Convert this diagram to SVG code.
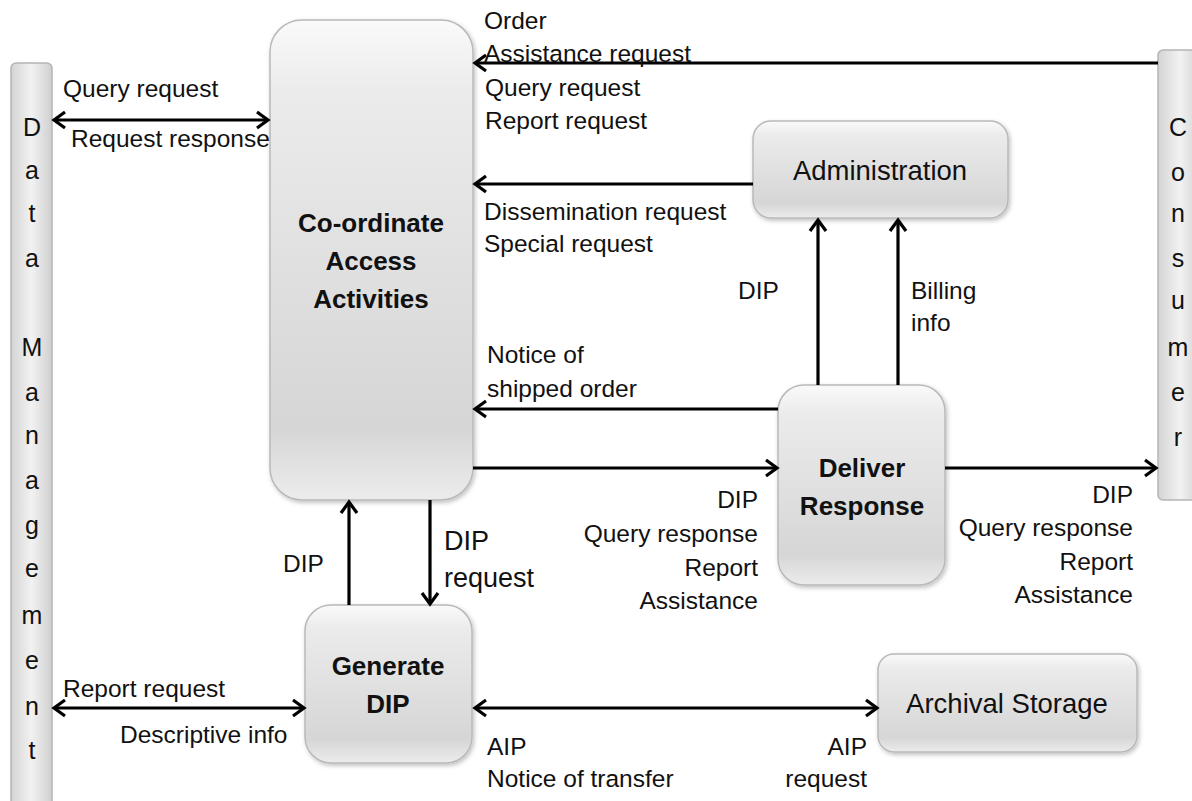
<svg xmlns="http://www.w3.org/2000/svg" width="1192" height="801" viewBox="0 0 1192 801">
<style>
text{font-family:"Liberation Sans",Arial,sans-serif;fill:#111;}
.lbl{font-size:24.5px;}
.nd{font-size:26px;font-weight:bold;text-anchor:middle;}
.nr{font-size:27.5px;text-anchor:middle;}
.bar{font-size:25px;text-anchor:middle;}
.box{fill:url(#g);stroke:#b9b9b9;stroke-width:1.5;}
.vbar{fill:url(#gh);stroke:#b5b5b5;stroke-width:1.5;}
.c{stroke:#000;stroke-width:3.2;fill:none;}
.r{text-anchor:end;}
</style>
<defs>
<linearGradient id="g" x1="0" y1="0" x2="0" y2="1">
<stop offset="0" stop-color="#fafafa"/>
<stop offset="0.15" stop-color="#ebebeb"/>
<stop offset="0.85" stop-color="#d6d6d6"/>
<stop offset="1" stop-color="#ececec"/>
</linearGradient>
<linearGradient id="gh" x1="0" y1="0" x2="1" y2="0">
<stop offset="0" stop-color="#d4d4d4"/>
<stop offset="0.5" stop-color="#f2f2f2"/>
<stop offset="1" stop-color="#cfcfcf"/>
</linearGradient>
<filter id="sh" x="-10%" y="-10%" width="130%" height="130%">
<feDropShadow dx="1.5" dy="2" stdDeviation="2" flood-color="#000" flood-opacity="0.25"/>
</filter>
<marker id="a" markerUnits="userSpaceOnUse" markerWidth="16" markerHeight="20" refX="13" refY="10" orient="auto-start-reverse">
<path d="M2,2 L13,10 L2,18" fill="none" stroke="#000" stroke-width="3.2"/>
</marker>
</defs>

<g id="data-management">
<rect class="vbar" x="11" y="63" width="41" height="745" rx="5"/>
<text class="bar" x="32" y="136">D</text>
<text class="bar" x="32" y="179">a</text>
<text class="bar" x="32" y="222">t</text>
<text class="bar" x="32" y="267">a</text>
<text class="bar" x="32" y="356">M</text>
<text class="bar" x="32" y="401">a</text>
<text class="bar" x="32" y="444">n</text>
<text class="bar" x="32" y="489">a</text>
<text class="bar" x="32" y="534">g</text>
<text class="bar" x="32" y="577">e</text>
<text class="bar" x="32" y="624">m</text>
<text class="bar" x="32" y="669">e</text>
<text class="bar" x="32" y="715">n</text>
<text class="bar" x="32" y="759">t</text>
</g>

<g id="consumer">
<rect class="vbar" x="1158" y="50" width="44" height="450" rx="5"/>
<text class="bar" x="1178" y="136">C</text>
<text class="bar" x="1178" y="181">o</text>
<text class="bar" x="1178" y="222">n</text>
<text class="bar" x="1178" y="267">s</text>
<text class="bar" x="1178" y="309">u</text>
<text class="bar" x="1178" y="356">m</text>
<text class="bar" x="1178" y="401">e</text>
<text class="bar" x="1178" y="446">r</text>
</g>

<g id="coordinate-access">
<rect class="box" x="270" y="20" width="203" height="480" rx="32" filter="url(#sh)"/>
<text class="nd" x="371" y="232">Co-ordinate</text>
<text class="nd" x="371" y="270">Access</text>
<text class="nd" x="371" y="308">Activities</text>
</g>

<g id="administration">
<rect class="box" x="753" y="121" width="255" height="97" rx="18" filter="url(#sh)"/>
<text class="nr" x="880" y="180">Administration</text>
</g>

<g id="deliver-response">
<rect class="box" x="778" y="385" width="167" height="200" rx="26" filter="url(#sh)"/>
<text class="nd" x="862" y="477">Deliver</text>
<text class="nd" x="862" y="515">Response</text>
</g>

<g id="generate-dip">
<rect class="box" x="305" y="605" width="167" height="158" rx="26" filter="url(#sh)"/>
<text class="nd" x="388" y="675">Generate</text>
<text class="nd" x="388" y="713">DIP</text>
</g>

<g id="archival-storage">
<rect class="box" x="878" y="654" width="259" height="98" rx="16" filter="url(#sh)"/>
<text class="nr" x="1007" y="713">Archival Storage</text>
</g>

<g id="connectors">
<line class="c" x1="54" y1="120" x2="268" y2="120" marker-start="url(#a)" marker-end="url(#a)"/>
<line class="c" x1="1158" y1="63" x2="475" y2="63" marker-end="url(#a)"/>
<line class="c" x1="753" y1="184" x2="475" y2="184" marker-end="url(#a)"/>
<line class="c" x1="818" y1="385" x2="818" y2="220" marker-end="url(#a)"/>
<line class="c" x1="898" y1="385" x2="898" y2="220" marker-end="url(#a)"/>
<line class="c" x1="778" y1="409" x2="475" y2="409" marker-end="url(#a)"/>
<line class="c" x1="473" y1="468" x2="777" y2="468" marker-end="url(#a)"/>
<line class="c" x1="945" y1="468" x2="1156" y2="468" marker-end="url(#a)"/>
<line class="c" x1="349" y1="605" x2="349" y2="502" marker-end="url(#a)"/>
<line class="c" x1="430" y1="500" x2="430" y2="604" marker-end="url(#a)"/>
<line class="c" x1="54" y1="708" x2="304" y2="708" marker-start="url(#a)" marker-end="url(#a)"/>
<line class="c" x1="475" y1="708" x2="877" y2="708" marker-start="url(#a)" marker-end="url(#a)"/>
</g>

<g id="labels">
<text class="lbl" x="63" y="97">Query request</text>
<text class="lbl" x="71" y="147">Request response</text>
<text class="lbl" x="484" y="29">Order</text>
<text class="lbl" x="484" y="62">Assistance request</text>
<text class="lbl" x="485" y="96">Query request</text>
<text class="lbl" x="485" y="129">Report request</text>
<text class="lbl" x="484" y="220">Dissemination request</text>
<text class="lbl" x="484" y="252">Special request</text>
<text class="lbl" x="738" y="299">DIP</text>
<text class="lbl" x="911" y="299">Billing</text>
<text class="lbl" x="911" y="331">info</text>
<text class="lbl" x="487" y="363">Notice of</text>
<text class="lbl" x="487" y="397">shipped order</text>
<text class="lbl r" x="758" y="508">DIP</text>
<text class="lbl r" x="758" y="542">Query response</text>
<text class="lbl r" x="758" y="576">Report</text>
<text class="lbl r" x="758" y="609">Assistance</text>
<text class="lbl r" x="1133" y="503">DIP</text>
<text class="lbl r" x="1133" y="536">Query response</text>
<text class="lbl r" x="1133" y="570">Report</text>
<text class="lbl r" x="1133" y="603">Assistance</text>
<text class="lbl" x="283" y="572">DIP</text>
<text class="lbl" x="444" y="550" style="font-size:27px">DIP</text>
<text class="lbl" x="444" y="587" style="font-size:27px">request</text>
<text class="lbl" x="63" y="697">Report request</text>
<text class="lbl" x="120" y="743">Descriptive info</text>
<text class="lbl" x="487" y="755">AIP</text>
<text class="lbl" x="487" y="787">Notice of transfer</text>
<text class="lbl r" x="867" y="755">AIP</text>
<text class="lbl r" x="867" y="787">request</text>
</g>
</svg>
